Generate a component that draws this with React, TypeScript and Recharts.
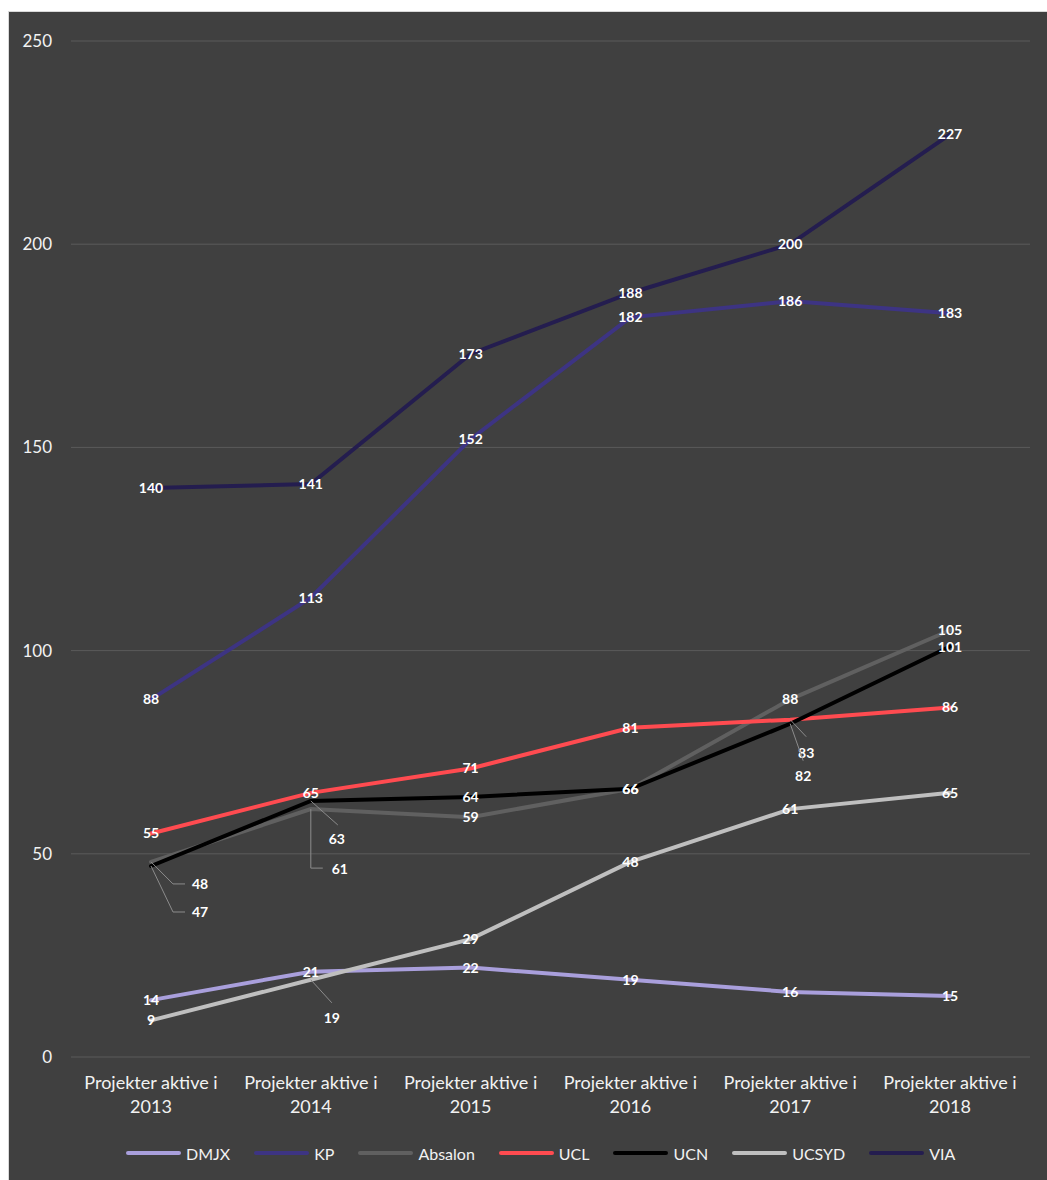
import React from "react";
import { CartesianGrid, LabelList, Line, LineChart, XAxis, YAxis } from "recharts";

const years = ["2013", "2014", "2015", "2016", "2017", "2018"];
const categoryPrefix = "Projekter aktive i";
const yTicks = [0, 50, 100, 150, 200, 250];

const dmjx = [14, 21, 22, 19, 16, 15];
const kp = [88, 113, 152, 182, 186, 183];
const absalon = [48, 61, 59, 66, 88, 105];
const ucl = [55, 65, 71, 81, 83, 86];
const ucn = [47, 63, 64, 66, 82, 101];
const ucsyd = [9, 19, 29, 48, 61, 65];
const via = [140, 141, 173, 188, 200, 227];

const series = [
  { name: "DMJX", values: dmjx, color: "#A99FDC" },
  { name: "KP", values: kp, color: "#3D3483" },
  { name: "Absalon", values: absalon, color: "#606060" },
  { name: "UCL", values: ucl, color: "#FF4B50" },
  { name: "UCN", values: ucn, color: "#000000" },
  { name: "UCSYD", values: ucsyd, color: "#BFBFBF" },
  { name: "VIA", values: via, color: "#241D4F" },
];

const data = years.map((year, i) => {
  const row: Record<string, string | number> = { year };
  series.forEach((s) => {
    row[s.name] = s.values[i];
  });
  return row;
});

// labels that were pushed away from their point, with a leader line
type Callout = { dx: number; dy: number; path: [number, number][] };
const callouts: Record<string, Record<number, Callout>> = {
  Absalon: {
    0: { dx: 49, dy: 22, path: [[0, 0], [22, 22], [34, 22]] },
    1: { dx: 29, dy: 60, path: [[0, 0], [0, 59], [12, 59]] },
  },
  UCN: {
    0: { dx: 49, dy: 46, path: [[0, 0], [22, 46], [34, 46]] },
    1: { dx: 26, dy: 38, path: [[0, 0], [27, 24]] },
    4: { dx: 13, dy: 52, path: [[0, 0], [13, 37]] },
  },
  UCSYD: { 1: { dx: 21, dy: 38, path: [[0, 0], [21, 23]] } },
  UCL: { 4: { dx: 16, dy: 33, path: [[0, 0], [16, 17]] } },
};

const font = "Lato, 'Noto Sans', sans-serif";
const textColor = "#F2F2F2";

function makeLabel(name: string) {
  return (props: any) => {
    const { x, y, value, index } = props;
    if (x == null || y == null) return null;
    const c = callouts[name]?.[index];
    const lx = c ? x + c.dx : x;
    const ly = c ? y + c.dy : y;
    return (
      <g>
        {c && (
          <polyline
            points={c.path.map(([px, py]) => `${x + px},${y + py}`).join(" ")}
            fill="none"
            stroke="#8C8C8C"
            strokeWidth={1}
          />
        )}
        <text
          x={lx}
          y={ly + 5}
          textAnchor="middle"
          fill="#FFFFFF"
          fontSize={14}
          fontWeight={700}
          fontFamily={font}
        >
          {value}
        </text>
      </g>
    );
  };
}

function YearTick(props: any) {
  const { x, y, payload } = props;
  return (
    <text x={x} y={y} textAnchor="middle" fill={textColor} fontSize={18} fontFamily={font}>
      <tspan x={x} dy={24}>
        {categoryPrefix}
      </tspan>
      <tspan x={x} dy={24}>
        {payload.value}
      </tspan>
    </text>
  );
}

export default function App() {
  return (
    <div
      style={{
        position: "fixed",
        top: 11,
        left: 8,
        right: 0,
        bottom: 0,
        background: "#404040",
        borderTop: "1px solid #D9D9D9",
        borderLeft: "1px solid #D9D9D9",
      }}
    >
      <LineChart
        width={1038}
        height={1159}
        data={data}
        margin={{ top: 29, right: 17, bottom: 54, left: 22 }}
      >
        <CartesianGrid vertical={false} stroke="#5A5A5A" strokeWidth={1} />
        <XAxis
          dataKey="year"
          axisLine={false}
          tickLine={false}
          interval={0}
          height={60}
          padding={{ left: 80, right: 80 }}
          tick={<YearTick />}
        />
        <YAxis
          domain={[0, 250]}
          ticks={yTicks}
          axisLine={false}
          tickLine={false}
          width={40}
          tickMargin={13}
          tick={{ fill: textColor, fontSize: 17, fontFamily: font }}
        />
        {series.map((s) => (
          <Line
            key={s.name}
            dataKey={s.name}
            stroke={s.color}
            strokeWidth={4}
            strokeLinecap="round"
            dot={false}
            activeDot={false}
            isAnimationActive={false}
          />
        ))}
        {series.map((s) => (
          <Line
            key={s.name + "-labels"}
            dataKey={s.name}
            stroke="none"
            dot={false}
            activeDot={false}
            legendType="none"
            isAnimationActive={false}
          >
            <LabelList dataKey={s.name} content={makeLabel(s.name)} />
          </Line>
        ))}
      </LineChart>
      <div
        style={{
          position: "absolute",
          top: 1129,
          left: 117,
          height: 24,
          display: "flex",
          alignItems: "center",
          fontFamily: font,
          fontSize: 16,
          color: textColor,
        }}
      >
        {series.map((s) => (
          <div key={s.name} style={{ display: "flex", alignItems: "center", marginRight: 24 }}>
            <span
              style={{
                display: "inline-block",
                width: 55,
                height: 4,
                borderRadius: 2,
                background: s.color,
                marginRight: 5,
              }}
            />
            <span>{s.name}</span>
          </div>
        ))}
      </div>
    </div>
  );
}
